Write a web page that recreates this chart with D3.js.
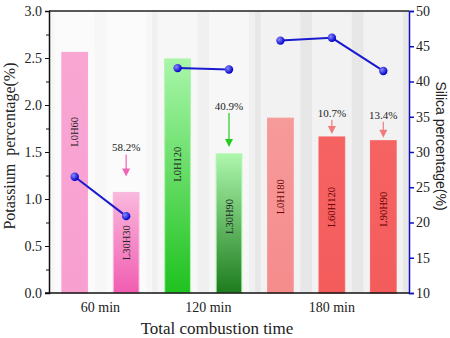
<!DOCTYPE html>
<html>
<head>
<meta charset="utf-8">
<script src="https://cdn.jsdelivr.net/npm/d3@7"></script>
<style>
  body { margin: 0; background: #fff; }
  svg text { font-family: "Liberation Serif", "Times New Roman", serif; }
</style>
</head>
<body>
<div id="chart"></div>
<script>
const wh = 450, ht = 338;
const margin = {top: 11, right: 41, bottom: 45, left: 49};
const w = wh - margin.left - margin.right,
      h = ht - margin.top - margin.bottom;

// data
const barNames = ["L0H60", "L30H30", "L0H120", "L30H90", "L0H180", "L60H120", "L90H90"];
const barGroup = [0, 0, 1, 1, 2, 2, 2];
const potassium = [2.56, 1.07, 2.49, 1.48, 1.86, 1.66, 1.62];
const silica = [26.5, 20.9, 41.9, 41.7, 45.8, 46.2, 41.5];
const groups = ["60 min", "120 min", "180 min"];
const reduction = [null, "58.2%", null, "40.9%", null, "10.7%", "13.4%"];
const leftTicks = [0, 0.5, 1.0, 1.5, 2.0, 2.5, 3.0];
const rightTicks = [10, 15, 20, 25, 30, 35, 40, 45, 50];

const barTop = ["#f9a6d3", "#f9b8dd", "#a9f6a9", "#adf7ad", "#f79a9a", "#f66363", "#f66363"];
const barBot = ["#f7a0d0", "#f15db1", "#1fc21f", "#1d7c1d", "#f58c8c", "#f45c5c", "#f45c5c"];
const arrowColor = [null, "#f064b4", null, "#22cc22", null, "#f07c7c", "#f07c7c"];
const groupBg = ["#f7f7f7", "#f0f0f0", "#e7e7e7"];

const svg = d3.select("#chart").append("svg")
    .attr("width", wh).attr("height", ht);
const defs = svg.append("defs");
const g = svg.append("g").attr("transform", "translate(" + margin.left + "," + margin.top + ")");

const x = d3.scaleBand().domain(barNames).range([0, w]).paddingInner(0.5).paddingOuter(0.25);
const y = d3.scaleLinear().domain([0, 3]).range([h, 0]);
const y2 = d3.scaleLinear().domain([10, 50]).range([h, 0]);

// group backgrounds
const step = x.step();
groups.forEach(function(gr, i) {
    const idx = barNames.filter(function(d, j) { return barGroup[j] === i; });
    const x0 = i === 0 ? 0 : x(idx[0]) - step * 0.25;
    const x1 = i === groups.length - 1 ? w : x(idx[idx.length - 1]) + x.bandwidth() + step * 0.25;
    g.append("rect").attr("x", x0).attr("y", 0).attr("width", x1 - x0).attr("height", h)
        .attr("fill", groupBg[i]);
});

// light stripes around bars
g.selectAll(".halo").data(barNames).enter().append("rect")
    .attr("x", function(d) { return x(d) - 7; })
    .attr("y", 0)
    .attr("width", x.bandwidth() + 14)
    .attr("height", h)
    .attr("fill", "#ffffff").attr("opacity", 0.45);

// gradients
barNames.forEach(function(d, i) {
    const lg = defs.append("linearGradient").attr("id", "grad" + i)
        .attr("x1", 0).attr("y1", 0).attr("x2", 0).attr("y2", 1);
    lg.append("stop").attr("offset", "0%").attr("stop-color", barTop[i]);
    lg.append("stop").attr("offset", "100%").attr("stop-color", barBot[i]);
});

g.selectAll(".bar").data(potassium).enter().append("rect")
    .attr("class", "bar")
    .attr("x", function(d, i) { return x(barNames[i]); })
    .attr("y", function(d) { return y(d); })
    .attr("width", x.bandwidth())
    .attr("height", function(d) { return h - y(d); })
    .attr("fill", function(d, i) { return "url(#grad" + i + ")"; })
    .attr("stroke", function(d, i) { return barTop[i]; })
    .attr("stroke-width", 1);

// bar labels
g.selectAll(".blabel").data(potassium).enter().append("text")
    .attr("transform", function(d, i) {
        const cx = x(barNames[i]) + x.bandwidth() / 2;
        const cy = i === 1 ? y(d) + (h - y(d)) * 0.5 : y(d) + (h - y(d)) * (i === 0 ? 0.33 : 0.45);
        return "translate(" + (cx + 3.5) + "," + cy + ") rotate(-90)";
    })
    .attr("text-anchor", "middle")
    .style("font-size", "10.5px")
    .attr("fill", function(d, i) { return barGroup[i] === 2 ? "#6a0000" : "#222"; })
    .text(function(d, i) { return barNames[i]; });

// reduction annotations with arrows
const arrowGap = [0, 16, 0, 7, 0, 3, 3];
const arrowLen = [0, 22, 0, 34, 0, 14, 16];
barNames.forEach(function(d, i) {
    if (!reduction[i]) return;
    const cx = x(d) + x.bandwidth() / 2;
    const top = y(potassium[i]);
    const len = arrowLen[i];
    const gap = arrowGap[i];
    const col = arrowColor[i];
    g.append("text").attr("x", cx).attr("y", top - gap - len - 3)
        .attr("text-anchor", "middle").style("font-size", "11px").attr("fill", "#222")
        .text(reduction[i]);
    g.append("line").attr("x1", cx).attr("x2", cx)
        .attr("y1", top - gap - len).attr("y2", top - gap - 6)
        .attr("stroke", col).attr("stroke-width", 1.2);
    g.append("path")
        .attr("d", "M" + (cx - 4) + "," + (top - gap - 8) + "L" + (cx + 4) + "," + (top - gap - 8) + "L" + cx + "," + (top - gap) + "Z")
        .attr("fill", col);
});

// silica lines
const line = d3.line()
    .x(function(d) { return x(barNames[d]) + x.bandwidth() / 2; })
    .y(function(d) { return y2(silica[d]); });
groups.forEach(function(gr, i) {
    const idx = d3.range(barNames.length).filter(function(j) { return barGroup[j] === i; });
    g.append("path").datum(idx).attr("d", line)
        .attr("fill", "none").attr("stroke", "#1a1ad0").attr("stroke-width", 2);
});
const rg = defs.append("radialGradient").attr("id", "ball").attr("cx", "35%").attr("cy", "35%").attr("r", "65%");
rg.append("stop").attr("offset", "0%").attr("stop-color", "#8a8aff");
rg.append("stop").attr("offset", "100%").attr("stop-color", "#0000cc");
g.selectAll(".pt").data(silica).enter().append("circle")
    .attr("cx", function(d, i) { return x(barNames[i]) + x.bandwidth() / 2; })
    .attr("cy", function(d) { return y2(d); })
    .attr("r", 4.2)
    .attr("fill", "url(#ball)");

// frame
g.append("line").attr("x1", 0).attr("x2", w).attr("y1", 0).attr("y2", 0)
    .attr("stroke", "#222").attr("stroke-width", 1.5);

// left axis
const leftAxis = d3.axisLeft(y).tickValues(leftTicks).tickFormat(d3.format(".1f")).tickSize(4).tickPadding(3);
const la = g.append("g").attr("class", "y-axis").call(leftAxis);
la.selectAll(".tick text").style("font-size", "14px").style("font-family", "Liberation Serif").attr("fill", "#222");
la.select(".domain").attr("stroke", "#111").attr("stroke-width", 1.5);
la.selectAll(".tick line").attr("stroke", "#111");
g.append("g").call(d3.axisLeft(y).tickValues(d3.range(0.25, 3, 0.5)).tickSize(3).tickFormat(""))
    .call(function(s) { s.select(".domain").remove(); s.selectAll("line").attr("stroke", "#111"); });

// right axis
const rightAxis = d3.axisRight(y2).tickValues(rightTicks).tickSize(5).tickPadding(2);
const ra = g.append("g").attr("transform", "translate(" + w + ",0)").call(rightAxis);
ra.select(".domain").attr("stroke", "#1010c0").attr("stroke-width", 1.5);
ra.selectAll(".tick line").attr("stroke", "#1010c0").attr("stroke-width", 1.5);
ra.selectAll(".tick text").style("font-size", "14px").style("font-family", "Liberation Serif").attr("fill", "#222");

// bottom axis
g.append("line").attr("x1", -4).attr("x2", w).attr("y1", h).attr("y2", h)
    .attr("stroke", "#111").attr("stroke-width", 1.5);
groups.forEach(function(gr, i) {
    const idx = barNames.filter(function(d, j) { return barGroup[j] === i; });
    const cx = i === 2 ? x(idx[1]) + x.bandwidth() / 2
        : d3.mean(idx, function(d) { return x(d) + x.bandwidth() / 2; }) + (i === 1 ? 5 : 0);
    g.append("text").attr("x", cx).attr("y", h + 19)
        .attr("text-anchor", "middle").style("font-size", "14px").attr("fill", "#222").text(gr);
});

// titles
svg.append("text").attr("x", margin.left + w / 2 - 12).attr("y", ht - 4)
    .attr("text-anchor", "middle").style("font-size", "17px").attr("fill", "#222")
    .text("Total combustion time");
svg.append("text").attr("transform", "translate(15," + 146 + ") rotate(-90)")
    .attr("text-anchor", "middle").style("font-size", "16px").attr("fill", "#222")
    .attr("xml:space", "preserve").style("white-space", "pre")
    .text("Potassium  percentage(%)");
svg.append("text").attr("transform", "translate(436," + 146 + ") rotate(90)")
    .attr("text-anchor", "middle").style("font-size", "14px").style("font-family", "Liberation Sans, Arial, sans-serif")
    .attr("fill", "#222")
    .text("Silica percentage(%)");
</script>
</body>
</html>
